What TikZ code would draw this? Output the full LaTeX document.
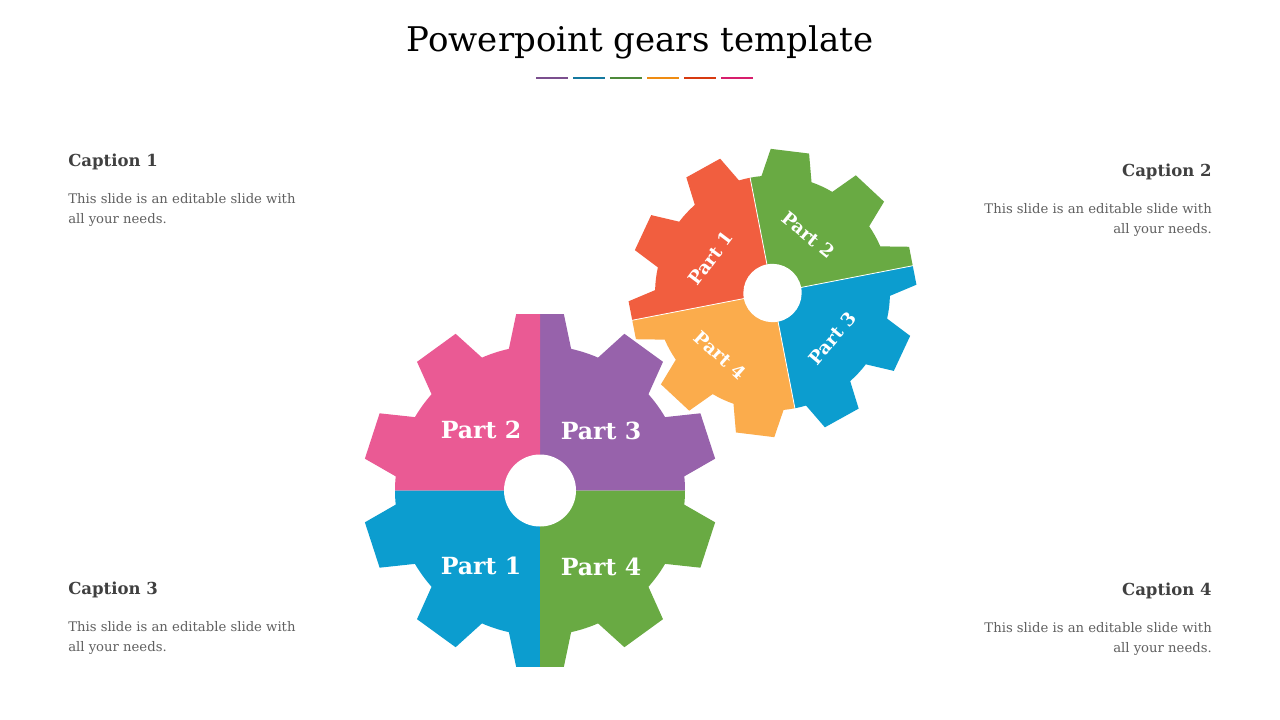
\documentclass[tikz,border=0pt]{standalone}
\usepackage{fontspec}
\setmainfont{DejaVu Serif}
\usetikzlibrary{positioning}

\definecolor{gpink}{HTML}{EA5A94}
\definecolor{gpurple}{HTML}{9762AB}
\definecolor{gblue}{HTML}{0C9DCF}
\definecolor{ggreen}{HTML}{69AA43}
\definecolor{gred}{HTML}{F15E3F}
\definecolor{gorange}{HTML}{FBAC4C}
\definecolor{lpurple}{HTML}{7B4F8E}
\definecolor{lteal}{HTML}{15799F}
\definecolor{lgreen}{HTML}{4E8A3A}
\definecolor{lorange}{HTML}{EF8C12}
\definecolor{lred}{HTML}{D73A10}
\definecolor{lpink}{HTML}{D71E6C}
\definecolor{capgray}{HTML}{404040}
\definecolor{bodygray}{HTML}{606060}

\tikzset{
  captitle/.style={font=\bfseries\fontsize{12.4}{14}\selectfont, text=capgray, inner sep=0pt},
  capbody/.style={font=\fontsize{9.9}{15}\selectfont, text=bodygray, inner sep=0pt},
  bigpart/.style={font=\bfseries\fontsize{17.7}{20}\selectfont, text=white, inner sep=0pt},
  smallpart/.style={font=\bfseries\fontsize{13.6}{16}\selectfont, text=white, inner sep=0pt},
}

% ten teeth, root radius 145, tip radius 178
\newcommand{\gearteeth}{(5.6:145) \foreach \t in {18,54,...,342}{ -- ({\t-12.4}:145) -- ({\t-7.7}:178) -- ({\t+7.7}:178) -- ({\t+12.4}:145) arc[start angle={\t+12.4}, end angle={\t+23.6}, radius=145] } -- cycle}

\begin{document}
\begin{tikzpicture}[x=0.75pt,y=0.75pt,yscale=-1,xscale=1]
    \useasboundingbox (0,0) rectangle (1280,720);
    \fill[white] (0,0) rectangle (1280,720);

    %Title
    \node[font=\fontsize{25.5}{30}\selectfont, anchor=base, inner sep=0pt] (title) at (640,52) {Powerpoint gears template};
    \foreach \col [count=\i from 0] in {lpurple,lteal,lgreen,lorange,lred,lpink}
      \draw[\col, line width=1.5pt] ({536+37*\i},78) -- ++(32,0);

    %Big gear
    \begin{scope}[shift={(540,490.5)}, yscale=-1]
      \foreach \col/\ang in {gpurple/0, gpink/90, gblue/180, ggreen/270}{
        \begin{scope}
          \clip (0,0) -- (\ang:200) arc[start angle=\ang, end angle=\ang+90, radius=200] -- cycle;
          \fill[\col] \gearteeth;
        \end{scope}
      }
      \fill[white] (0,0) circle[radius=36];
    \end{scope}

    %Small gear
    \begin{scope}[shift={(772.5,293)}, yscale=-1, rotate=-79, scale=0.81]
      \foreach \col/\ang in {gblue/0, ggreen/90, gred/180, gorange/270}{
        \begin{scope}
          \clip (0,0) -- (\ang:200) arc[start angle=\ang, end angle=\ang+90, radius=200] -- cycle;
          \fill[\col] \gearteeth;
        \end{scope}
      }
      \foreach \ang in {0,90,180,270}
        \draw[white, line width=0.6pt] (0,0) -- (\ang:185);
      \fill[white] (0,0) circle[radius=36];
    \end{scope}

    %Gear labels
    \node[bigpart] (bp2) at (481,430) {Part 2};
    \node[bigpart] (bp3) at (601,431) {Part 3};
    \node[bigpart] (bp1) at (481,566) {Part 1};
    \node[bigpart] (bp4) at (601,567) {Part 4};
    \node[smallpart, rotate=53] (sp1) at (710.7,258.3) {Part 1};
    \node[smallpart, rotate=-39] (sp2) at (808.3,235) {Part 2};
    \node[smallpart, rotate=50] (sp3) at (832.3,338.3) {Part 3};
    \node[smallpart, rotate=-42] (sp4) at (720,355) {Part 4};

    %Captions
    \node[captitle, anchor=base west] (cap1) at (68,166.5) {Caption 1};
    \node[capbody, align=left, below=17.5pt of cap1.south west, anchor=north west] (txt1) {This slide is an editable slide with\\all your needs.};
    \node[captitle, anchor=base east] (cap2) at (1212,176.5) {Caption 2};
    \node[capbody, align=right, below=17.5pt of cap2.south east, anchor=north east] (txt2) {This slide is an editable slide with\\all your needs.};
    \node[captitle, anchor=base west] (cap3) at (68,594.5) {Caption 3};
    \node[capbody, align=left, below=17.5pt of cap3.south west, anchor=north west] (txt3) {This slide is an editable slide with\\all your needs.};
    \node[captitle, anchor=base east] (cap4) at (1212,595.5) {Caption 4};
    \node[capbody, align=right, below=17.5pt of cap4.south east, anchor=north east] (txt4) {This slide is an editable slide with\\all your needs.};
\end{tikzpicture}
\end{document}
